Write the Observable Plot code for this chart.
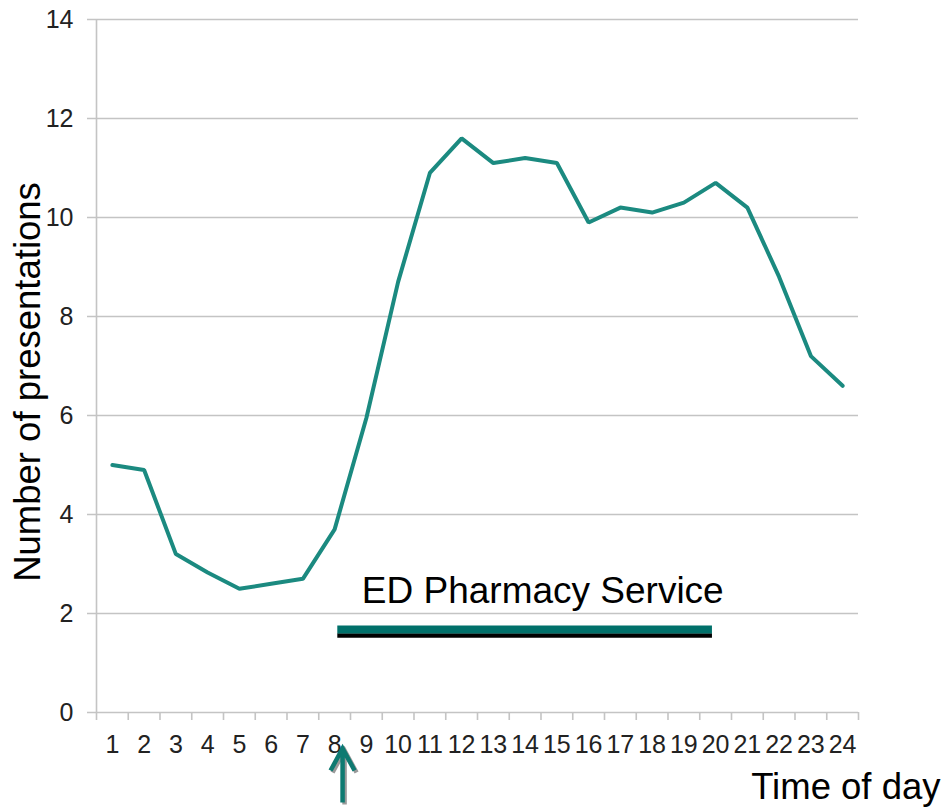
<!DOCTYPE html>
<html>
<head>
<meta charset="utf-8">
<script src="https://cdn.jsdelivr.net/npm/d3@7"></script>
<script src="https://cdn.jsdelivr.net/npm/@observablehq/plot@0.6"></script>
<style>
  html, body { margin: 0; padding: 0; background: #fff; }
  #chart svg { display: block; }
</style>
</head>
<body>
<div id="chart"></div>
<script>
// ---- data ----
const hours = [1,2,3,4,5,6,7,8,9,10,11,12,13,14,15,16,17,18,19,20,21,22,23,24];
const presentations = [5.0,4.9,3.2,2.83,2.5,2.6,2.7,3.7,5.95,8.7,10.9,11.6,11.1,11.2,11.1,9.9,10.2,10.1,10.3,10.7,10.2,8.8,7.2,6.6];
const yTicks = [0,2,4,6,8,10,12,14];
const serviceSpan = [8.1, 19.9];           // ED Pharmacy Service hours (start, end)
const serviceLabel = ["ED Pharmacy Service"];
const arrowHour = [8.25];                  // service start marker
const yTitle = "Number of presentations";
const xTitle = "Time of day";

const data = hours.map((h, i) => ({hour: h, value: presentations[i]}));
const bandEdges = d3.range(0.5, 24.51, 1);

const lineColor = "#1b8a80";
const barTeal = "#00706a";
const grid = "#c4c4c4";
const font = "'Liberation Sans', Arial, sans-serif";

const arrowShape = {
  draw(context, l) {
    context.moveTo(0, 0);
    context.lineTo(0, -l);
    context.moveTo(-12, -l + 22);
    context.lineTo(0, -l);
    context.lineTo(12, -l + 22);
  }
};

const chart = Plot.plot({
  width: 946,
  height: 807,
  marginLeft: 96,
  marginRight: 88,
  marginTop: 19,
  marginBottom: 95,
  style: {fontFamily: font, fontSize: "25px", color: "#222", background: "#fff", overflow: "visible"},
  x: {domain: [0.5, 24.5], ticks: hours, tickSize: 0, tickPadding: 23, tickFormat: d => String(d), label: null},
  y: {domain: [0, 14], ticks: yTicks, tickSize: 0, tickPadding: 23, label: null},
  marks: [
    Plot.ruleY(yTicks, {stroke: grid, strokeWidth: 1.6, insetLeft: -9}),
    Plot.ruleX([0.5], {stroke: grid, strokeWidth: 1.6}),
    Plot.ruleX(bandEdges, {y1: 0, y2: 0, insetBottom: -8, stroke: grid, strokeWidth: 1.6}),
    Plot.line(data, {x: "hour", y: "value", stroke: lineColor, strokeWidth: 4, strokeLinejoin: "miter"}),
    Plot.ruleY([0], {x1: serviceSpan[0], x2: serviceSpan[1], dy: -77, stroke: "#000", strokeWidth: 4.6}),
    Plot.ruleY([0], {x1: serviceSpan[0], x2: serviceSpan[1], dy: -83, stroke: barTeal, strokeWidth: 8}),
    Plot.text(serviceLabel, {x: serviceSpan[0], y: 0, text: d => d, textAnchor: "start", lineAnchor: "bottom", dx: 24, dy: -110, fontSize: 37, fill: "#000"}),
    Plot.vector(arrowHour, {x: d => d, y: 0, length: 54, anchor: "start", shape: arrowShape, dx: 2, dy: 92, stroke: "#9a9a9a", strokeWidth: 4.5, strokeLinecap: "butt", strokeLinejoin: "miter"}),
    Plot.vector(arrowHour, {x: d => d, y: 0, length: 54, anchor: "start", shape: arrowShape, dy: 90, stroke: "#0e7a71", strokeWidth: 4.5, strokeLinecap: "butt", strokeLinejoin: "miter"}),
    Plot.text([yTitle], {frameAnchor: "left", text: d => d, rotate: -90, textAnchor: "middle", lineAnchor: "middle", dx: -68, dy: 16, fontSize: 36.5, fill: "#000"}),
    Plot.text([xTitle], {frameAnchor: "bottom-right", text: d => d, textAnchor: "end", lineAnchor: "bottom", dx: 82, dy: 86, fontSize: 36.5, fill: "#000"})
  ]
});
document.getElementById("chart").appendChild(chart);
</script>
</body>
</html>
